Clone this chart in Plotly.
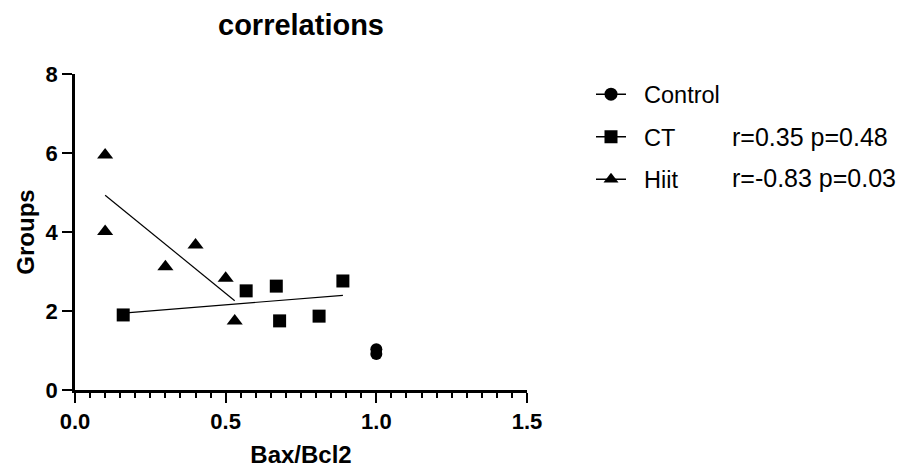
import numpy as np
import plotly.graph_objects as go

# ---- data ----
control_x = [1.0, 1.0]
control_y = [0.91, 1.03]

ct_x = [0.16, 0.568, 0.668, 0.679, 0.81, 0.889]
ct_y = [1.90, 2.51, 2.63, 1.75, 1.87, 2.76]

hiit_x = [0.10, 0.10, 0.30, 0.40, 0.50, 0.53]
hiit_y = [5.95, 4.01, 3.12, 3.67, 2.83, 1.75]

group_names = ["Control", "CT", "Hiit"]
stats_text = ["", "r=0.35 p=0.48", "r=-0.83 p=0.03"]

x_ticks = [0.0, 0.5, 1.0, 1.5]
x_ticklabels = ["0.0", "0.5", "1.0", "1.5"]
y_ticks = [0, 2, 4, 6, 8]

FONT = "Liberation Sans, Arial, sans-serif"
NBSP = "\u00a0"

def fit_line(x, y):
    slope, intercept = np.polyfit(x, y, 1)
    xs = np.array([min(x), max(x)])
    return xs, slope * xs + intercept

fig = go.Figure()

series = [
    (control_x, control_y, "circle", 12),
    (ct_x, ct_y, "square", 13),
    (hiit_x, hiit_y, "triangle-up", 14),
]

for (xv, yv, sym, sz), name in zip(series, group_names):
    fig.add_trace(go.Scatter(x=xv, y=yv, mode="markers", showlegend=False, name=name,
                             marker=dict(symbol=sym, size=sz, color="black"),
                             cliponaxis=False))

for xv, yv in [(ct_x, ct_y), (hiit_x, hiit_y)]:
    fx, fy = fit_line(xv, yv)
    fig.add_trace(go.Scatter(x=fx, y=fy, mode="lines", showlegend=False,
                             line=dict(color="black", width=1.2)))

# legend entries
for (xv, yv, sym, sz), name in zip(series, group_names):
    fig.add_trace(go.Scatter(x=[None], y=[None], mode="lines+markers", name=NBSP * 2 + name,
                             legendgroup=name,
                             marker=dict(symbol=sym, size=13, color="black"),
                             line=dict(color="black", width=1.5)))

stats_y = [None, 0.80, 0.67]
for t, yy in zip(stats_text, stats_y):
    if t:
        fig.add_annotation(text=t, xref="paper", yref="paper", x=1.449, y=yy,
                           xanchor="left", yanchor="middle", showarrow=False,
                           font=dict(size=25, color="black", family=FONT))

fig.update_layout(
    width=896, height=462,
    margin=dict(l=67, r=377, t=66, b=80),
    paper_bgcolor="white", plot_bgcolor="white",
    font=dict(family=FONT, color="black"),
    title=dict(text="<b>correlations</b>", x=0.5, xref="paper", y=0.963, yanchor="middle",
               font=dict(size=29, family=FONT, color="black")),
    legend=dict(x=(591 - 75) / 452, y=1.005, xanchor="left", yanchor="top", tracegroupgap=9,
                font=dict(size=23.5, family=FONT, color="black"), bgcolor="rgba(0,0,0,0)"),
)

fig.update_xaxes(range=[0, 1.5], tickvals=x_ticks, ticktext=x_ticklabels, automargin=False,
                 showgrid=False, zeroline=False, showline=True, linecolor="black", linewidth=2.5,
                 ticks="outside", ticklen=10, tickwidth=2, tickcolor="black",
                 tickfont=dict(size=22, family=FONT, color="black", weight="bold"),
                 minor=dict(dtick=0.05, ticks="outside", ticklen=5, tickwidth=1.5, tickcolor="black", showgrid=False),
                 title=dict(text="<b>Bax/Bcl2</b>", font=dict(size=24, family=FONT, color="black"), standoff=14))
fig.update_yaxes(range=[0, 8], tickvals=y_ticks, automargin=False,
                 showgrid=False, zeroline=False, showline=True, linecolor="black", linewidth=2.5,
                 ticks="outside", ticklen=10, tickwidth=2, tickcolor="black",
                 tickfont=dict(size=22, family=FONT, color="black", weight="bold"),
                 title=dict(text="<b>Groups</b>", font=dict(size=24, family=FONT, color="black"), standoff=5))

fig.write_html("out.html")
